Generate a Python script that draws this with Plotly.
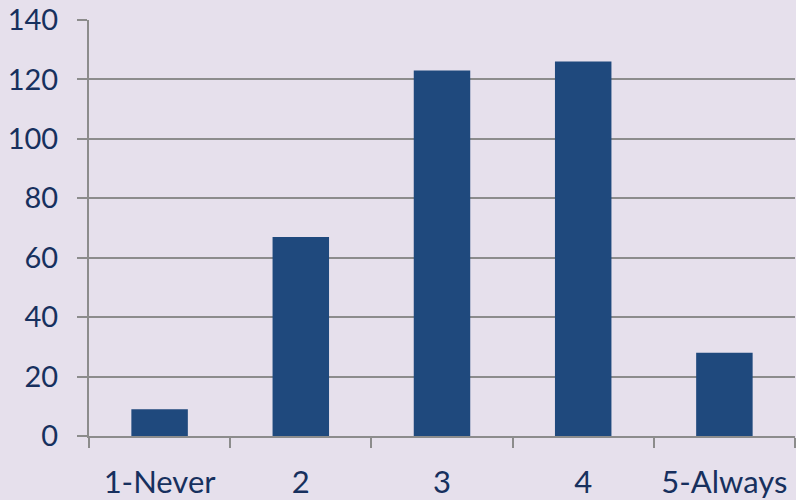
import plotly.graph_objects as go

categories = ["1-Never", "2", "3", "4", "5-Always"]
values = [9, 67, 123, 126, 28]
y_ticks = [0, 20, 40, 60, 80, 100, 120, 140]

bg = "#E6E0EC"
bar_color = "#1F497D"
text_color = "#17305E"
grid_color = "#8C8C8C"

fig = go.Figure(go.Bar(x=categories, y=values, marker=dict(color=bar_color, line=dict(width=0)), width=0.4))

yfont = dict(family="Lato, Open Sans, sans-serif", size=29, color=text_color)
xfont = dict(family="Lato, Open Sans, sans-serif", size=31, color=text_color)

fig.update_layout(
    width=796, height=500,
    margin=dict(l=89, r=1, t=20, b=64),
    paper_bgcolor=bg, plot_bgcolor=bg,
    showlegend=False,
    bargap=0.6,
    font=yfont,
)
fig.update_xaxes(
    type="category",
    tickson="boundaries",
    ticks="outside", ticklen=10, tickcolor=grid_color, tickwidth=2,
    showline=True, linecolor=grid_color, linewidth=2,
    showgrid=False,
    tickfont=xfont,
    ticklabelstandoff=18,
)
fig.update_yaxes(
    range=[0, 140],
    tickvals=y_ticks,
    ticks="outside", ticklen=10, tickcolor=grid_color, tickwidth=2,
    showline=True, linecolor=grid_color, linewidth=2,
    showgrid=True, gridcolor=grid_color, gridwidth=2,
    zeroline=False,
    tickfont=yfont,
    ticklabelstandoff=13,
)

fig.write_html("out.html")
